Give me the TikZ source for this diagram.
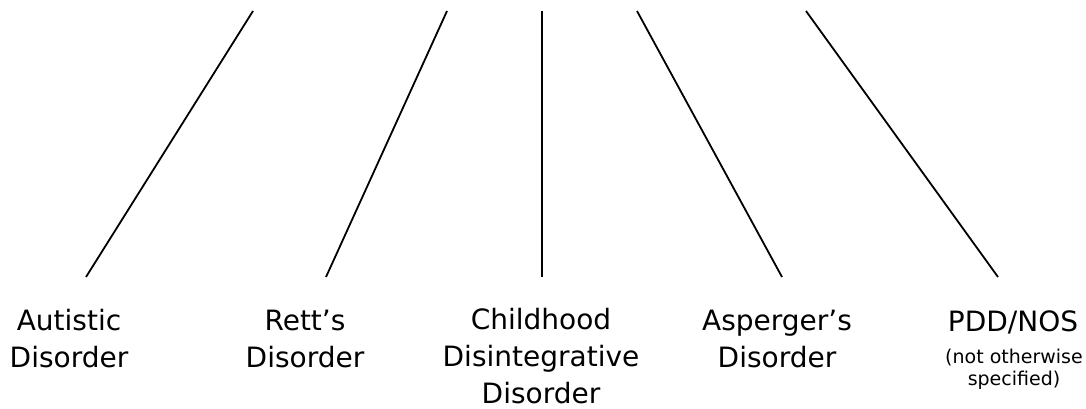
\documentclass[tikz,border=0pt]{standalone}
\usepackage{fontspec}
\setmainfont{DejaVu Sans}
\usepackage{tikz}

\begin{document}
\begin{tikzpicture}[x=1pt, y=-1pt,
    branch/.style={line width=1.8pt},
    dsm/.style={font=\fontsize{28}{37}\selectfont, align=center, anchor=base, inner sep=0pt},
    small/.style={font=\fontsize{19}{22}\selectfont}]
    %%%%% START %%%%%

    \useasboundingbox[fill=white] (0,0) rectangle (1086,408);

    % upper and lower ends of the five branches
    \coordinate (t1) at (253,11);  \coordinate (b1) at (86,277);
    \coordinate (t2) at (447,11);  \coordinate (b2) at (326,277);
    \coordinate (t3) at (542,11);  \coordinate (b3) at (542,277);
    \coordinate (t4) at (637,11);  \coordinate (b4) at (782,277);
    \coordinate (t5) at (806,11);  \coordinate (b5) at (998,277);

    \draw[branch] (t1) -- (b1);
    \draw[branch] (t2) -- (b2);
    \draw[branch] (t3) -- (b3);
    \draw[branch] (t4) -- (b4);
    \draw[branch] (t5) -- (b5);

    % base anchor sits on the last line
    \node[dsm] (autistic) at (69,367) {Autistic\\Disorder};
    \node[dsm] (rett) at (305,367) {Rett’s\\Disorder};
    \node[dsm] (cdd) at (541,403) {Childhood\\Disintegrative\\Disorder};
    \node[dsm] (asperger) at (777,367) {Asperger’s\\Disorder};
    \node[dsm] (pdd) at (1013,331) {PDD/NOS};
    \node[dsm, small] (nos) at (1014,385) {(not otherwise\\specified)};

    %%%%% END %%%%%
\end{tikzpicture}
\end{document}
